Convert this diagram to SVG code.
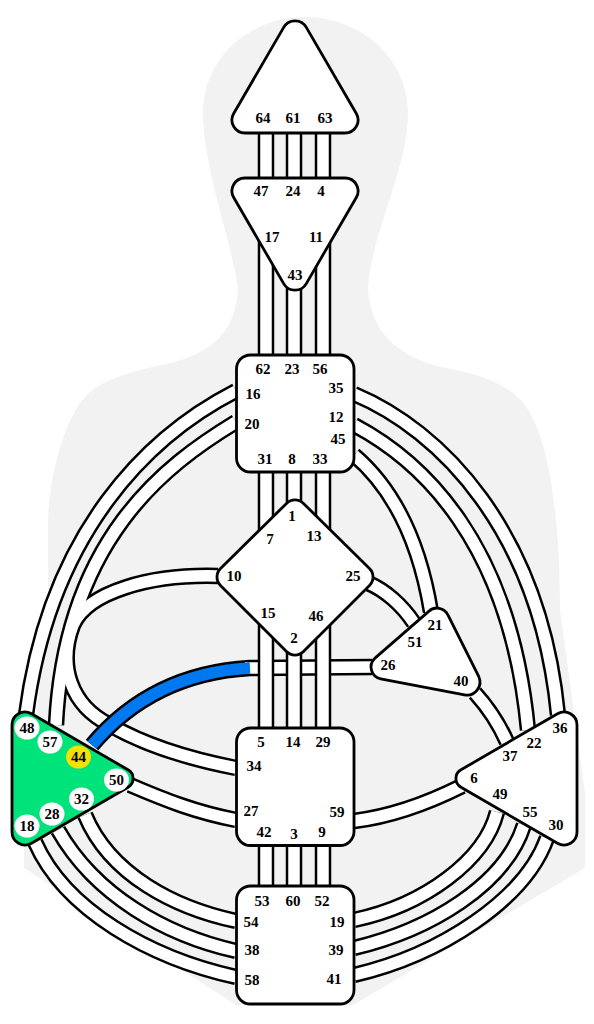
<svg xmlns="http://www.w3.org/2000/svg" xmlns:xlink="http://www.w3.org/1999/xlink" width="594" height="1024" viewBox="0 0 594 1024">
<style>
.k{fill:none;stroke:#000;stroke-width:16.5}
.w{fill:none;stroke:#fff;stroke-width:11.5}
.b{fill:none;stroke:#0078f0;stroke-width:11.5}
.n{fill:#fff;stroke:#000;stroke-width:2.8}
.g{fill:#00e27a;stroke:#000;stroke-width:2.8}
.d{fill:#fff}
.y{fill:#f5e100}
text{font-family:"Liberation Serif","Times New Roman",serif;font-weight:700;font-size:15px;fill:#000;text-anchor:middle;dominant-baseline:central}
</style>
<defs>
<g id="curves">
<path d="M236,391 C150,435 50,530 26,715"/>
<path d="M236,422 C165,465 65,540 56,725"/>
<path d="M218,576 C150,574 88,592 73,625 C58,665 70,705 110,725 C150,748 200,761 236,768"/>
<path d="M354,394 C440,430 540,530 558,715"/>
<path d="M354,425 C420,460 510,540 528,730"/>
<path d="M354,455 C395,490 420,545 431,612"/>
<path d="M368,583 C385,590 402,605 414,623"/>
<path d="M475,693 Q495,715 507,742"/>
<path d="M354,821 C395,816 430,802 462,786"/>
<path d="M354,920 C425,905 485,860 497,812"/>
<path d="M354,948 C430,930 505,885 524,825"/>
<path d="M354,975 C440,955 525,900 547,838"/>
<path d="M236,977 C150,958 65,910 35,842"/>
<path d="M236,951 C165,935 95,895 58,830"/>
<path d="M236,921 C175,908 110,875 85,815"/>
<path d="M236,820 C195,812 165,800 130,785"/>
</g>
<g id="verticals">
<path d="M266,125V895"/>
<path d="M294,125V895"/>
<path d="M323,125V895"/>
</g>
</defs>
<path id="body" fill="#f2f2f2" d="M305,17 C362,17 408,60 408,112 C408,170 372,230 368,288 C370,330 395,355 440,367 C470,372 505,380 525,405 C550,440 560,520 560,610 L585,793 L585,868 L353,1005 L236,1005 L24,868 L24,840 L48,600 L48,520 C50,470 65,420 85,397 C105,375 150,368 175,362 C215,350 235,330 238,290 C232,240 203,170 203,112 C203,60 248,17 305,17 Z"/>
<g id="connectors">
<use href="#curves" class="k"/>
<use href="#curves" class="w"/>
<path class="k" d="M92,745 C130,700 180,672 250,668 L372,667"/>
<path class="w" d="M245,668 L372,667"/>
<path class="b" d="M92,745 C130,700 180,672 250,668"/>
<use href="#verticals" class="k"/>
<use href="#verticals" class="w"/>
</g>
<g id="head"><path class="n" d="M283.700,27.400 A13,13 0 0 1 306.300,27.400 L356.300,113.500 A13,13 0 0 1 345,133 L245,133 A13,13 0 0 1 233.700,113.500 Z"/>
<text x="263" y="118">64</text><text x="293" y="118">61</text><text x="325" y="118">63</text></g>
<g id="ajna"><path class="n" d="M245,178 L345,178 A13,13 0 0 1 356.300,197.500 L306.300,283.600 A13,13 0 0 1 283.700,283.600 L233.700,197.500 A13,13 0 0 1 245,178 Z"/>
<text x="261" y="191">47</text><text x="293" y="191">24</text><text x="321" y="191">4</text><text x="272" y="237">17</text><text x="316" y="237">11</text><text x="295" y="275">43</text></g>
<g id="throat"><rect class="n" x="236.500" y="355" width="117.500" height="117" rx="14"/>
<text x="263" y="369">62</text><text x="292" y="369">23</text><text x="320" y="369">56</text><text x="253" y="394">16</text><text x="336" y="388">35</text><text x="252" y="424">20</text><text x="336" y="417">12</text><text x="338" y="439">45</text><text x="265" y="459">31</text><text x="292" y="459">8</text><text x="320" y="459">33</text></g>
<g id="g-center"><path class="n" d="M286.500,503.500 A12,12 0 0 1 303.500,503.500 L369.500,568.500 A12,12 0 0 1 369.500,585.500 L303.500,651.500 A12,12 0 0 1 286.500,651.500 L220.500,585.500 A12,12 0 0 1 220.500,568.500 Z"/>
<text x="292" y="516">1</text><text x="270" y="539">7</text><text x="314" y="536">13</text><text x="234" y="576">10</text><text x="353" y="576">25</text><text x="268" y="613">15</text><text x="316" y="616">46</text><text x="294" y="638">2</text></g>
<g id="sacral"><rect class="n" x="236.500" y="728" width="117.500" height="117.500" rx="14"/>
<text x="261" y="742">5</text><text x="293" y="742">14</text><text x="323" y="742">29</text><text x="254" y="766">34</text><text x="251" y="811">27</text><text x="337" y="812">59</text><text x="264" y="832">42</text><text x="294" y="834">3</text><text x="322" y="832">9</text></g>
<g id="root"><rect class="n" x="236.500" y="886" width="117.500" height="118" rx="14"/>
<text x="262" y="901">53</text><text x="293" y="901">60</text><text x="322" y="901">52</text><text x="251" y="922">54</text><text x="337" y="922">19</text><text x="252" y="950">38</text><text x="336" y="950">39</text><text x="252" y="980">58</text><text x="334" y="979">41</text></g>
<g id="ego"><path class="n" d="M374.700,658.400 L428.700,611.400 A12,12 0 0 1 447.900,615 L478.800,676.700 A13,13 0 0 1 464.500,694.800 L380.700,678.800 A12,12 0 0 1 374.700,658.400 Z"/>
<text x="435" y="625">21</text><text x="415" y="642">51</text><text x="388" y="665">26</text><text x="461" y="681">40</text></g>
<g id="solar"><path class="n" d="M461,769.800 L557.500,713.700 A13,13 0 0 1 577,725 L577,832 A13,13 0 0 1 557.500,843.300 L461,787.200 A10,10 0 0 1 461,769.800 Z"/>
<text x="560" y="728">36</text><text x="534" y="743">22</text><text x="510" y="756">37</text><text x="474" y="778">6</text><text x="500" y="794">49</text><text x="530" y="812">55</text><text x="556" y="825">30</text></g>
<g id="spleen"><path class="g" d="M128,769.800 L31.500,713.700 A13,13 0 0 0 12,725 L12,832 A13,13 0 0 0 31.500,843.300 L128,787.200 A10,10 0 0 0 128,769.800 Z"/>
<ellipse class="d" cx="27" cy="728" rx="12.500" ry="11.500"/><ellipse class="d" cx="50" cy="742" rx="12.500" ry="11.500"/><ellipse class="y" cx="78.500" cy="757" rx="12.500" ry="11.500"/><ellipse class="d" cx="116.500" cy="780" rx="12.500" ry="11.500"/><ellipse class="d" cx="81.500" cy="799" rx="12.500" ry="11.500"/><ellipse class="d" cx="52" cy="814" rx="12.500" ry="11.500"/><ellipse class="d" cx="27" cy="826" rx="12.500" ry="11.500"/>
<text x="27" y="728">48</text><text x="50" y="742">57</text><text x="78.500" y="757">44</text><text x="116.500" y="780">50</text><text x="81.500" y="799">32</text><text x="52" y="814">28</text><text x="27" y="826">18</text></g>
</svg>
